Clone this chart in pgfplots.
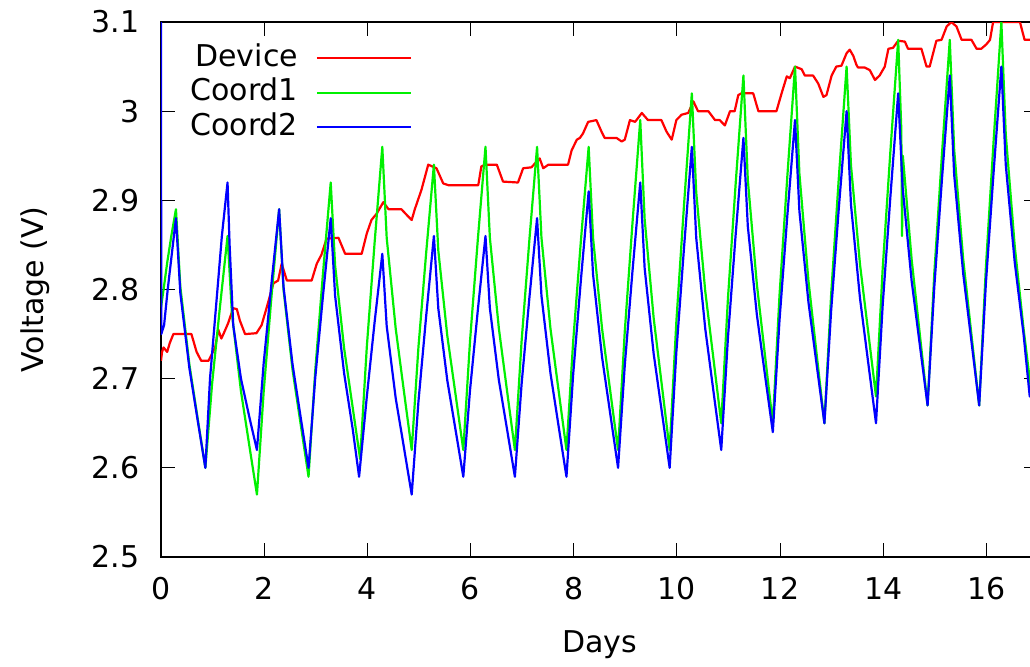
\documentclass[border=0pt]{standalone}
\usepackage{fontspec}
\setmainfont{DejaVu Sans}
\usepackage{pgfplots}
\pgfplotsset{compat=1.18}
\definecolor{gpred}{RGB}{255,0,0}
\definecolor{gpgreen}{RGB}{0,240,0}
\definecolor{gpblue}{RGB}{0,0,255}
\begin{document}
\fontsize{15}{18}\selectfont
\begin{tikzpicture}
\begin{axis}[
 scale only axis, width=438.5pt, height=267.5pt,
 xmin=0, xmax=17, ymin=2.5, ymax=3.1,
 xtick={0,2,...,16}, ytick={2.5,2.6,2.7,2.8,2.9,3,3.1},
 /pgf/number format/assume math mode=true,
 tick align=inside, major tick length=7pt,
 axis line style={line width=1pt, black},
 tick style={line width=0.5pt, black},
 xlabel={Days}, ylabel={Voltage (V)},
 xlabel style={at={(axis description cs:0.5,-0.1645)}, anchor=center},
 ylabel style={at={(axis description cs:-0.1437,0.5)}, anchor=center},
 xticklabel style={yshift=-5pt},
 yticklabel style={xshift=-5.5pt},
 legend plot pos=right, legend cell align=right,
 legend style={at={(axis description cs:0.2862,0.9645)}, anchor=north east,
   draw=none, fill=none, inner sep=0pt, outer sep=0pt, row sep=0pt, column sep=8pt,
   nodes={inner sep=1pt, text height=11.5pt, text depth=3.75pt}},
 legend image code/.code={\draw[#1, line width=1pt] (0pt,0pt) -- (47pt,0pt);},
 every axis plot/.append style={line width=1.1pt, line join=round},
]
\addplot[gpred] coordinates {
(0.00,2.72) (0.02,2.73) (0.05,2.735) (0.12,2.73) (0.17,2.74) (0.24,2.75) (0.30,2.75)
(0.59,2.75) (0.69,2.73) (0.78,2.72) (0.92,2.72) (1.05,2.735) (1.11,2.755) (1.17,2.745)
(1.21,2.75) (1.30,2.762) (1.40,2.779) (1.47,2.778) (1.53,2.765) (1.63,2.75) (1.85,2.751)
(1.95,2.76) (2.05,2.78) (2.18,2.807) (2.27,2.81) (2.34,2.829) (2.44,2.81) (2.56,2.81)
(2.92,2.81) (3.02,2.829) (3.11,2.839) (3.21,2.857) (3.44,2.858) (3.57,2.84) (3.89,2.84)
(3.99,2.863) (4.08,2.878) (4.18,2.885) (4.31,2.898) (4.41,2.89) (4.66,2.89) (4.79,2.882)
(4.86,2.878) (4.92,2.89) (5.05,2.912) (5.18,2.94) (5.34,2.936) (5.44,2.923) (5.47,2.919)
(5.57,2.917) (6.15,2.917) (6.21,2.938) (6.28,2.94) (6.51,2.94) (6.63,2.921) (6.92,2.92)
(7.02,2.936) (7.18,2.937) (7.34,2.947) (7.41,2.936) (7.51,2.94) (7.89,2.94) (7.96,2.956)
(8.06,2.968) (8.12,2.97) (8.18,2.975) (8.28,2.988) (8.44,2.99) (8.54,2.977) (8.60,2.97)
(8.83,2.97) (8.93,2.966) (8.99,2.968) (9.09,2.99) (9.19,2.988) (9.32,2.998) (9.44,2.99)
(9.70,2.99) (9.80,2.977) (9.90,2.968) (9.99,2.99) (10.09,2.996) (10.22,2.998) (10.32,3.011)
(10.41,3.0) (10.61,3.0) (10.74,2.99) (10.83,2.99) (10.93,2.984) (11.03,3.0) (11.12,3.0)
(11.19,3.018) (11.25,3.02) (11.48,3.02) (11.58,3.0) (11.93,3.0) (12.03,3.02) (12.13,3.039)
(12.19,3.037) (12.29,3.05) (12.42,3.047) (12.48,3.04) (12.64,3.04) (12.74,3.031) (12.84,3.016)
(12.90,3.018) (13.00,3.04) (13.09,3.05) (13.19,3.051) (13.29,3.065) (13.35,3.069) (13.42,3.062)
(13.48,3.052) (13.51,3.049) (13.64,3.049) (13.74,3.046) (13.84,3.035) (13.93,3.04) (14.03,3.05)
(14.10,3.07) (14.19,3.071) (14.29,3.079) (14.42,3.078) (14.48,3.07) (14.74,3.07) (14.84,3.05)
(14.90,3.05) (15.03,3.079) (15.13,3.08) (15.23,3.095) (15.32,3.10) (15.42,3.095) (15.52,3.08)
(15.71,3.08) (15.81,3.07) (15.90,3.07) (16.00,3.075) (16.07,3.08) (16.13,3.10) (16.23,3.10)
(16.65,3.10) (16.74,3.08) (16.90,3.08)
};
\addlegendentry{Device}
\addplot[gpgreen] coordinates {
(0,2.78) (0.05,2.80) (0.12,2.83) (0.2,2.86) (0.29,2.89)
(0.375,2.803) (0.55,2.716) (0.72,2.652) (0.86,2.60)
(0.99,2.694) (1.14,2.779) (1.29,2.86)
(1.375,2.773) (1.55,2.686) (1.72,2.622) (1.86,2.57)
(1.99,2.685) (2.14,2.791) (2.29,2.89)
(2.375,2.80) (2.55,2.71) (2.72,2.644) (2.86,2.59)
(2.99,2.709) (3.14,2.818) (3.29,2.92)
(3.375,2.827) (3.55,2.734) (3.72,2.666) (3.86,2.61)
(3.99,2.736) (4.14,2.852) (4.29,2.96)
(4.375,2.858) (4.55,2.756) (4.72,2.681) (4.86,2.62)
(4.99,2.735) (5.14,2.841) (5.29,2.94)
(5.375,2.844) (5.55,2.748) (5.72,2.678) (5.86,2.62)
(5.99,2.742) (6.14,2.855) (6.29,2.96)
(6.375,2.858) (6.55,2.756) (6.72,2.681) (6.86,2.62)
(6.99,2.742) (7.14,2.855) (7.29,2.96)
(7.375,2.858) (7.55,2.756) (7.72,2.681) (7.86,2.62)
(7.99,2.742) (8.14,2.855) (8.29,2.96)
(8.375,2.858) (8.55,2.756) (8.72,2.681) (8.86,2.62)
(8.99,2.753) (9.14,2.875) (9.29,2.99)
(9.375,2.879) (9.55,2.768) (9.72,2.687) (9.86,2.62)
(9.99,2.764) (10.14,2.896) (10.29,3.02)
(10.375,2.909) (10.55,2.798) (10.72,2.717) (10.86,2.65)
(10.99,2.79) (11.14,2.919) (11.29,3.04)
(11.375,2.923) (11.55,2.806) (11.72,2.72) (11.86,2.65)
(11.99,2.794) (12.14,2.926) (12.29,3.05)
(12.375,2.93) (12.55,2.81) (12.72,2.722) (12.86,2.65)
(12.99,2.794) (13.14,2.926) (13.29,3.05)
(13.375,2.939) (13.55,2.828) (13.72,2.747) (13.86,2.68)
(13.99,2.824) (14.14,2.956) (14.29,3.08)
(14.35,2.98) (14.365,2.86) (14.38,2.95) (14.55,2.834) (14.72,2.744) (14.86,2.67)
(14.99,2.818) (15.14,2.953) (15.29,3.08)
(15.375,2.957) (15.55,2.834) (15.72,2.744) (15.86,2.67)
(15.99,2.825) (16.14,2.967) (16.29,3.10)
(16.375,2.974) (16.55,2.848) (16.72,2.756) (16.86,2.69) (17.0,2.76)
};
\addlegendentry{Coord1}
\addplot[gpblue] coordinates {
(0,3.12) (0.005,2.75) (0.06,2.76) (0.13,2.80) (0.21,2.84) (0.29,2.88)
(0.375,2.796) (0.55,2.712) (0.72,2.65) (0.86,2.60)
(0.95,2.70) (1.08,2.79) (1.18,2.86) (1.29,2.92)
(1.33,2.85) (1.40,2.76) (1.55,2.70) (1.72,2.655) (1.86,2.62)
(1.99,2.717) (2.14,2.806) (2.29,2.89)
(2.375,2.803) (2.55,2.716) (2.72,2.652) (2.86,2.60)
(2.99,2.701) (3.14,2.793) (3.29,2.88)
(3.375,2.793) (3.55,2.706) (3.72,2.642) (3.84,2.59)
(3.99,2.68) (4.14,2.763) (4.29,2.84)
(4.375,2.759) (4.55,2.678) (4.72,2.619) (4.86,2.57)
(4.99,2.674) (5.14,2.77) (5.29,2.86)
(5.375,2.779) (5.55,2.698) (5.72,2.639) (5.86,2.59)
(5.99,2.687) (6.14,2.776) (6.29,2.86)
(6.375,2.779) (6.55,2.698) (6.72,2.639) (6.86,2.59)
(6.99,2.694) (7.14,2.79) (7.29,2.88)
(7.375,2.793) (7.55,2.706) (7.72,2.642) (7.86,2.59)
(7.99,2.705) (8.14,2.811) (8.29,2.91)
(8.375,2.817) (8.55,2.724) (8.72,2.656) (8.86,2.60)
(8.99,2.715) (9.14,2.821) (9.29,2.92)
(9.375,2.824) (9.55,2.728) (9.72,2.658) (9.86,2.60)
(9.99,2.73) (10.14,2.848) (10.29,2.96)
(10.375,2.858) (10.55,2.756) (10.72,2.681) (10.86,2.62)
(10.99,2.746) (11.14,2.862) (11.29,2.97)
(11.375,2.871) (11.55,2.772) (11.72,2.699) (11.86,2.64)
(11.99,2.766) (12.14,2.882) (12.29,2.99)
(12.375,2.888) (12.55,2.786) (12.72,2.711) (12.86,2.65)
(12.99,2.776) (13.14,2.892) (13.29,3.00)
(13.375,2.895) (13.55,2.79) (13.72,2.713) (13.86,2.65)
(13.99,2.783) (14.14,2.905) (14.29,3.02)
(14.375,2.915) (14.55,2.81) (14.72,2.733) (14.86,2.67)
(14.99,2.803) (15.14,2.925) (15.29,3.04)
(15.375,2.929) (15.55,2.818) (15.72,2.737) (15.86,2.67)
(15.99,2.807) (16.14,2.932) (16.29,3.05)
(16.375,2.94) (16.55,2.83) (16.72,2.75) (16.84,2.68) (17.0,2.75)
};
\addlegendentry{Coord2}
\end{axis}
\pgfresetboundingbox
\path[use as bounding box] (-80.5pt,-54.5pt) rectangle (434.5pt,278.5pt);
\end{tikzpicture}
\end{document}
